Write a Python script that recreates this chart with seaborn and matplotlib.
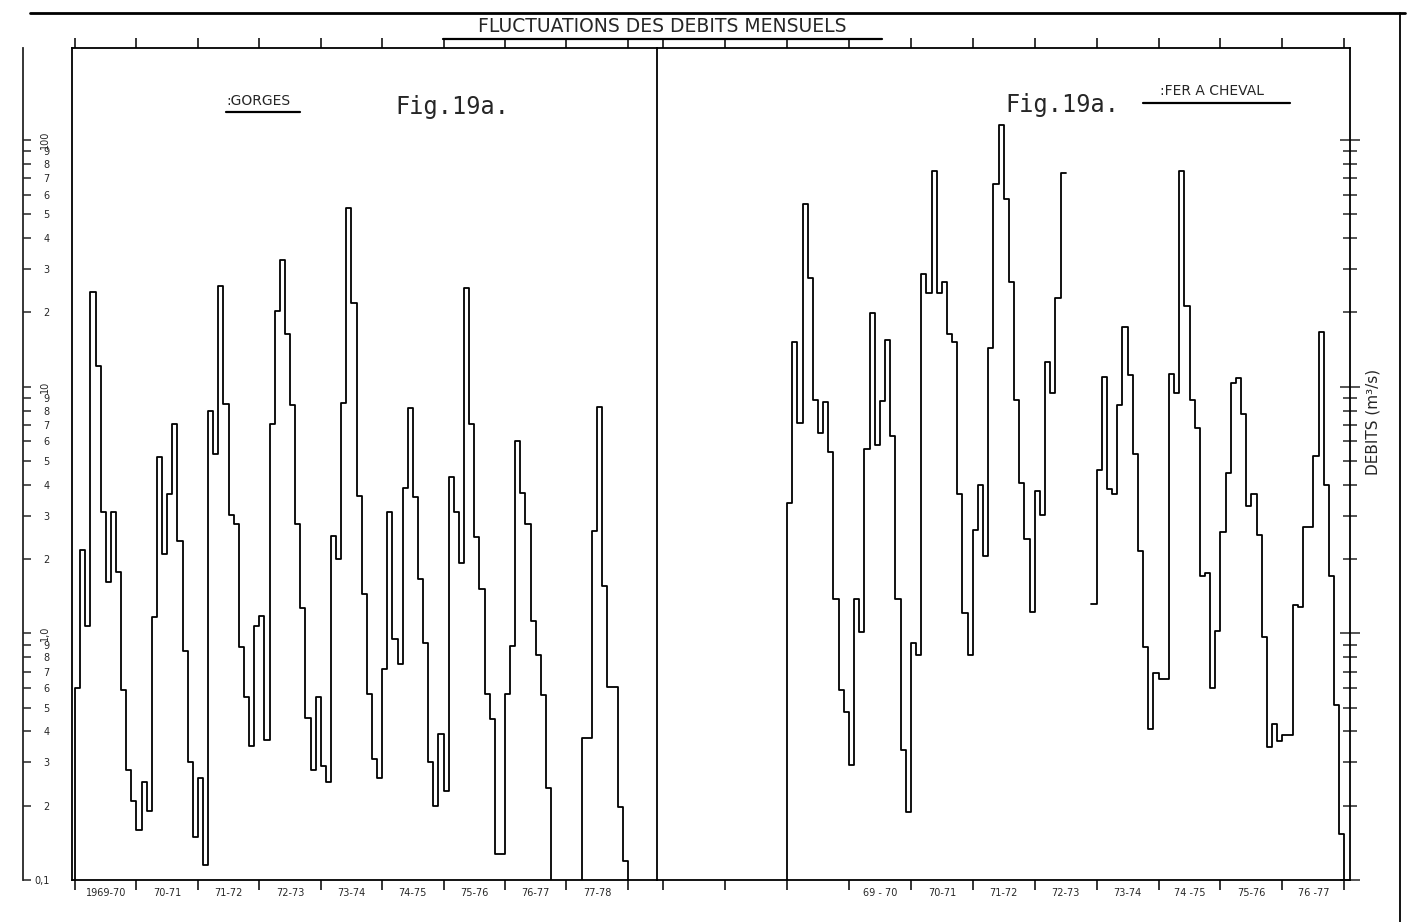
import numpy as np
import pandas as pd
import matplotlib.pyplot as plt
import seaborn as sns
from matplotlib.lines import Line2D
from matplotlib.ticker import NullLocator

sns.set_style("white")
plt.rcParams['font.family'] = ['DejaVu Sans']

# Monthly discharge (m3/s), one value per month, hydrological years
# GORGES: 1969-70 .. 77-78 ; 0.05 = flow below the 0.1 floor of the scale
gorges_flow = [
    0.60, 2.17, 1.07, 24.3, 12.1, 3.10, 1.62, 3.10, 1.77, 0.59, 0.28, 0.21,
    0.16, 0.25, 0.19, 1.17, 5.17, 2.10, 3.67, 7.07, 2.37, 0.85, 0.30, 0.15,
    0.26, 0.115, 7.99, 5.35, 25.5, 8.51, 3.03, 2.77, 0.88, 0.55, 0.35, 1.07,
    1.18, 0.37, 7.07, 20.3, 32.7, 16.3, 8.4, 2.77, 1.27, 0.455, 0.28, 0.55,
    0.29, 0.25, 2.47, 2.01, 8.6, 53.0, 21.9, 3.62, 1.45, 0.57, 0.31, 0.26,
    0.715, 3.10, 0.95, 0.75, 3.90, 8.2, 3.57, 1.66, 0.91, 0.30, 0.20, 0.39,
    0.23, 4.29, 3.09, 1.92, 25.2, 7.07, 2.45, 1.51, 0.57, 0.45, 0.128, 0.128,
    0.57, 0.89, 6.04, 3.72, 2.77, 1.12, 0.82, 0.56, 0.236, 0.05, 0.05, 0.05,
    0.05, 0.05, 0.05, 0.375, 0.375, 2.60, 8.3, 1.56, 0.605, 0.605, 0.198, 0.119,
]

# FER A CHEVAL: 1968-69 .. 76-77 ; nan = missing months
fer_flow = [
    3.36, 15.2, 7.1, 55.0, 27.5, 8.84, 6.46, 8.67, 5.41, 1.38, 0.59, 0.48,
    0.293, 1.38, 1.01, 5.58, 19.8, 5.78, 8.78, 15.4, 6.32, 1.38, 0.338, 0.189,
    0.91, 0.82, 28.6, 24.0, 75.0, 24.0, 26.5, 16.3, 15.2, 3.67, 1.21, 0.82,
    2.63, 3.99, 2.06, 14.4, 66.5, 115.0, 57.7, 26.5, 8.84, 4.07, 2.41, 1.22,
    3.79, 3.02, 12.6, 9.4, 22.9, 73.6, np.nan, np.nan, np.nan, np.nan, np.nan, 1.32,
    4.6, 10.9, 3.84, 3.67, 8.45, 17.5, 11.2, 5.32, 2.15, 0.88, 0.41, 0.69,
    0.65, 0.65, 11.3, 9.4, 75.0, 21.2, 8.84, 6.8, 1.70, 1.75, 0.60, 1.02,
    2.58, 4.46, 10.3, 10.8, 7.76, 3.28, 3.67, 2.51, 0.97, 0.345, 0.43, 0.367,
    0.386, 0.386, 1.30, 1.28, 2.70, 2.70, 5.25, 16.7, 3.99, 1.70, 0.51, 0.153,
]

BELOW_SCALE = 0.05

gorges_years = ["1969-70", "70-71", "71-72", "72-73", "73-74", "74-75", "75-76", "76-77", "77-78"]
fer_years = ["69 - 70", "70-71", "71-72", "72-73", "73-74", "74 -75", "75-76", "76 -77"]

y_ticks = [0.1, 0.2, 0.3, 0.4, 0.5, 0.6, 0.7, 0.8, 0.9,
           1, 2, 3, 4, 5, 6, 7, 8, 9,
           10, 20, 30, 40, 50, 60, 70, 80, 90, 100]
y_ticklabels = ["0,1", "2", "3", "4", "5", "6", "7", "8", "9",
                "1,0", "2", "3", "4", "5", "6", "7", "8", "9",
                "10", "2", "3", "4", "5", "6", "7", "8", "9", "100"]
decades = [0.1, 1, 10, 100]


def step_frame(values):
    # split on missing months, close every segment with its last step
    rows = [(0, BELOW_SCALE, 0)]
    seg = 0
    open_seg = True
    for m, v in enumerate(values):
        if np.isnan(v):
            if open_seg:
                rows.append((m, values[m - 1], seg))
                seg += 1
                open_seg = False
            continue
        rows.append((m, v, seg))
        open_seg = True
    rows.append((len(values), values[-1], seg))
    rows.append((len(values), BELOW_SCALE, seg))
    return pd.DataFrame(rows, columns=['month', 'flow', 'seg'])


W, H = 1412, 922
fig = plt.figure(figsize=(W / 100, H / 100), dpi=100)
axL = fig.add_axes([72 / W, 1 - 880 / H, 585 / W, 832 / H])
axR = fig.add_axes([657 / W, 1 - 880 / H, 693 / W, 832 / H])
axR.set_facecolor('none')

for ax, flow in [(axL, gorges_flow), (axR, fer_flow)]:
    df = step_frame(flow)
    sns.lineplot(data=df, x='month', y='flow', units='seg', estimator=None, sort=False,
                 drawstyle='steps-post', color='black', lw=1.3, ax=ax, legend=False)
    ax.set_yscale('log')
    ax.set_ylim(0.1, 236)
    ax.set_xlabel('')
    ax.set_ylabel('')
    for s in ax.spines.values():
        s.set_color('black')
        s.set_linewidth(1.3)

axL.set_xlim(-0.6, 113.7)
axR.set_xlim(-25.2, 109.1)
axR.spines['left'].set_visible(False)

# year boundaries and year labels
axL.set_xticks(range(0, 109, 12))
axL.set_xticks([6 + 12 * i for i in range(len(gorges_years))], gorges_years, minor=True)
axR.set_xticks(range(-24, 109, 12))
axR.set_xticks([18 + 12 * i for i in range(len(fer_years))], fer_years, minor=True)
for ax in (axL, axR):
    ax.tick_params(axis='x', which='major', direction='out', length=7, width=1.1,
                   top=True, bottom=True, labelbottom=False, color='black')
    ax.tick_params(axis='x', which='minor', length=0, labelsize=7, pad=6)

# left value scale
axL.set_yticks(y_ticks, y_ticklabels)
axL.yaxis.set_minor_locator(NullLocator())
axL.tick_params(axis='y', direction='out', length=7, width=1.1, labelsize=7, pad=9, color='black')
for lbl in axL.get_yticklabels():
    if lbl.get_text() in ("1,0", "10", "100"):
        lbl.set_rotation(90)
        lbl.set_va('center')

outer = axL.secondary_yaxis(-0.0838)
outer.set_yticks(y_ticks)
outer.yaxis.set_minor_locator(NullLocator())
outer.tick_params(axis='y', which='both', direction='in', length=6, width=1.1, labelleft=False)
outer.spines['left'].set_linewidth(1.3)

# right value scale, no numbers
axR.yaxis.tick_right()
axR.set_yticks(decades)
axR.set_yticks([t for t in y_ticks if t not in decades], minor=True)
axR.tick_params(axis='y', which='major', direction='inout', length=14, width=1.1, labelright=False)
axR.tick_params(axis='y', which='minor', direction='inout', length=10, width=1.1, labelright=False)
axR.set_ylabel("DEBITS (m³/s)", fontsize=11, rotation=90)
axR.yaxis.set_label_position('right')
axR.yaxis.set_label_coords(1.022, 0.55)

# titles and labels
fig.text(662 / W, 1 - 26 / H, "FLUCTUATIONS DES DEBITS MENSUELS", ha='center', va='center', fontsize=13.5)
fig.add_artist(Line2D([443 / W, 882 / W], [1 - 39 / H] * 2, color='black', lw=1.6))
fig.text(258 / W, 1 - 101 / H, ":GORGES", ha='center', va='center', fontsize=10)
fig.add_artist(Line2D([226 / W, 300 / W], [1 - 112 / H] * 2, color='black', lw=1.6))
fig.text(395 / W, 1 - 107 / H, "Fig.19a.", ha='left', va='center', fontsize=17, family='DejaVu Sans Mono')
fig.text(1005 / W, 1 - 105 / H, "Fig.19a.", ha='left', va='center', fontsize=17, family='DejaVu Sans Mono')
fig.text(1212 / W, 1 - 91 / H, ":FER A CHEVAL", ha='center', va='center', fontsize=10)
fig.add_artist(Line2D([1143 / W, 1290 / W], [1 - 103 / H] * 2, color='black', lw=1.6))

# page frame
fig.add_artist(Line2D([30 / W, 1405 / W], [1 - 13 / H] * 2, color='black', lw=2))
fig.add_artist(Line2D([1400 / W] * 2, [0, 1 - 13 / H], color='black', lw=1.3))

fig.savefig('out.png', dpi=100, facecolor='white')
